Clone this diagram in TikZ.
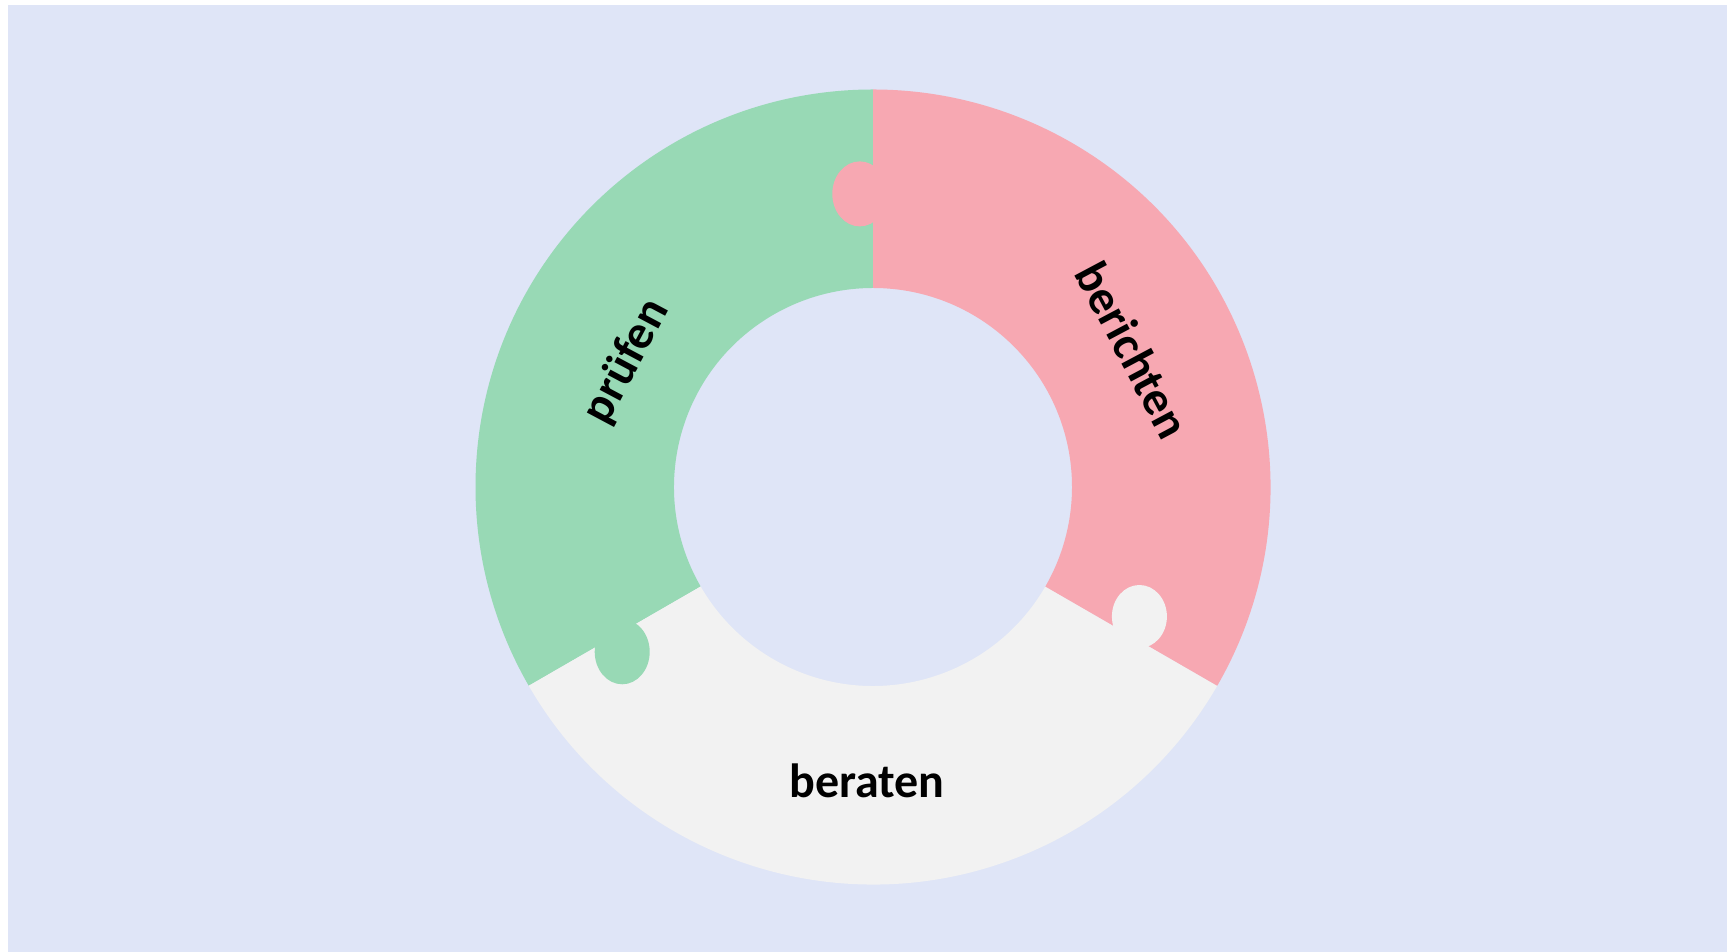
\documentclass[tikz,border=0pt]{standalone}
\usepackage{fontspec}
\newfontfamily\labelfont{Carlito}
\definecolor{bgcol}{RGB}{223,229,247}
\definecolor{greencol}{RGB}{152,217,181}
\definecolor{pinkcol}{RGB}{247,168,178}
\definecolor{graycol}{RGB}{242,242,242}
\tikzset{
  lbl/.style={inner sep=0pt, text=black, font=\labelfont\bfseries\fontsize{48}{54}\selectfont}
}
\begin{document}
\begin{tikzpicture}[x=1pt,y=1pt]
\useasboundingbox (0,0) rectangle (1727,952);
\fill[white] (0,0) rectangle (1727,952);
\fill[bgcol] (8,0) rectangle (1727,947);
\begin{scope}[shift={(873,465)}]
  % sectors
  \fill[greencol] (90:397.5) arc[start angle=90,end angle=210,radius=397.5]
     -- (210:199) arc[start angle=210,end angle=90,radius=199] -- cycle;
  \fill[graycol] (210:397.5) arc[start angle=210,end angle=330,radius=397.5]
     -- (330:199) arc[start angle=330,end angle=210,radius=199] -- cycle;
  \fill[pinkcol] (-30:397.5) arc[start angle=-30,end angle=90,radius=397.5]
     -- (90:199) arc[start angle=90,end angle=-30,radius=199] -- cycle;
\end{scope}
% tabs
\fill[pinkcol] (859.8,758.1) ellipse[x radius=27.5, y radius=32.5];
\fill[greencol] (622.2,300.2) ellipse[x radius=27.5, y radius=32.5];
\fill[graycol] (1139.4,335.5) ellipse[x radius=27.5, y radius=31.5];
% labels
\node[lbl, anchor=base] (beraten) at (867,154.7) {beraten};
\node[lbl, rotate=62] (pruefen) at (626.7,590.3) {prüfen};
\node[lbl, rotate=-62] (berichten) at (1133,602) {berichten};
\end{tikzpicture}
\end{document}
